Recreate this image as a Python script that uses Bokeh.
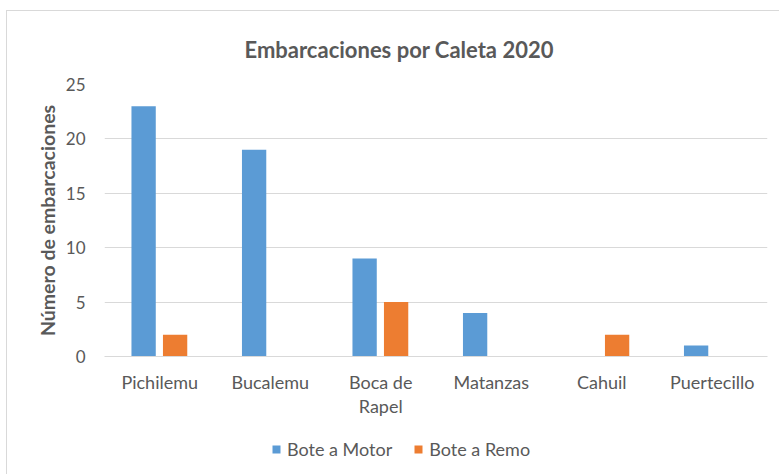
from bokeh.plotting import figure
from bokeh.models import ColumnDataSource, Range1d, FactorRange, Legend, LegendItem, FixedTicker
from bokeh.layouts import column
from bokeh.transform import dodge
from bokeh.embed import file_html
from bokeh.resources import INLINE

categories = ["Pichilemu", "Bucalemu", "Boca de\nRapel", "Matanzas", "Cahuil", "Puertecillo"]
motor = [23, 19, 9, 4, 0, 1]
remo = [2, 0, 5, 0, 2, 0]
series_names = ["Bote a Motor", "Bote a Remo"]
y_ticks = [0, 5, 10, 15, 20, 25]

FONT = "Lato"
TXT = "#595959"
BLUE = "#5B9BD5"
ORANGE = "#ED7D31"

source = ColumnDataSource(data=dict(cat=categories, motor=motor, remo=remo))

p = figure(width=772, height=419, x_range=FactorRange(*categories), y_range=Range1d(0, 25),
           output_backend="svg", toolbar_location=None,
           min_border_left=97, min_border_right=12, min_border_top=73, min_border_bottom=74)

p.title.text = "Embarcaciones por Caleta 2020"
p.title.text_font = FONT
p.title.text_font_size = "22px"
p.title.text_font_style = "bold"
p.title.text_color = TXT
p.title.align = "left"
p.title.offset = 140
p.title.standoff = 44

p.vbar(x=dodge("cat", -0.146, range=p.x_range), top="motor", width=0.22, source=source,
       fill_color=BLUE, line_color=None)
p.vbar(x=dodge("cat", 0.139, range=p.x_range), top="remo", width=0.22, source=source,
       fill_color=ORANGE, line_color=None)

p.outline_line_color = None
p.xgrid.grid_line_color = None
p.ygrid.grid_line_color = "#D9D9D9"
p.ygrid.grid_line_width = 1

p.yaxis.ticker = FixedTicker(ticks=y_ticks)
p.yaxis.axis_line_color = None
p.yaxis.major_tick_line_color = None
p.yaxis.minor_tick_line_color = None
p.yaxis.major_label_text_font = FONT
p.yaxis.major_label_text_font_size = "17px"
p.yaxis.major_label_text_color = TXT
p.yaxis.major_label_standoff = 13
p.yaxis.axis_label = "Número de embarcaciones"
p.yaxis.axis_label_text_font = FONT
p.yaxis.axis_label_text_font_size = "19.5px"
p.yaxis.axis_label_text_font_style = "bold"
p.yaxis.axis_label_text_color = TXT
p.yaxis.axis_label_standoff = 4

p.xaxis.axis_line_color = "#D9D9D9"
p.xaxis.major_tick_line_color = None
p.xaxis.minor_tick_line_color = None
p.xaxis.major_label_text_font = FONT
p.xaxis.major_label_text_font_size = "18px"
p.xaxis.major_label_text_color = TXT
p.xaxis.major_label_text_line_height = 1.1
p.xaxis.major_label_standoff = 8

# legend strip below the chart: same data, zero-width bars outside the view, only the legend shows
pl = figure(width=772, height=44, x_range=p.x_range, y_range=Range1d(-2, -1),
            output_backend="svg", toolbar_location=None,
            min_border_left=0, min_border_right=0, min_border_top=0, min_border_bottom=0)
pl.axis.visible = False
pl.grid.visible = False
pl.outline_line_color = None
l1 = pl.vbar(x="cat", top="motor", width=0, source=source, fill_color=BLUE, line_color=None)
l2 = pl.vbar(x="cat", top="remo", width=0, source=source, fill_color=ORANGE, line_color=None)

legend = Legend(items=[LegendItem(label=series_names[0], renderers=[l1]),
                       LegendItem(label=series_names[1], renderers=[l2])],
                orientation="horizontal", location=(167, 14))
legend.label_text_font = FONT
legend.label_text_font_size = "18px"
legend.label_text_color = TXT
legend.glyph_width = 10
legend.glyph_height = 10
legend.border_line_color = None
legend.background_fill_alpha = 0
legend.padding = 0
legend.margin = 0
legend.spacing = 21
legend.label_standoff = 6
pl.add_layout(legend, "center")

layout = column(p, pl, spacing=0)
layout.styles = {"margin-left": "6px", "margin-top": "10px",
                 "border-left": "1px solid #D9D9D9", "border-top": "1px solid #D9D9D9"}
open("out.html", "w").write(file_html(layout, INLINE))
